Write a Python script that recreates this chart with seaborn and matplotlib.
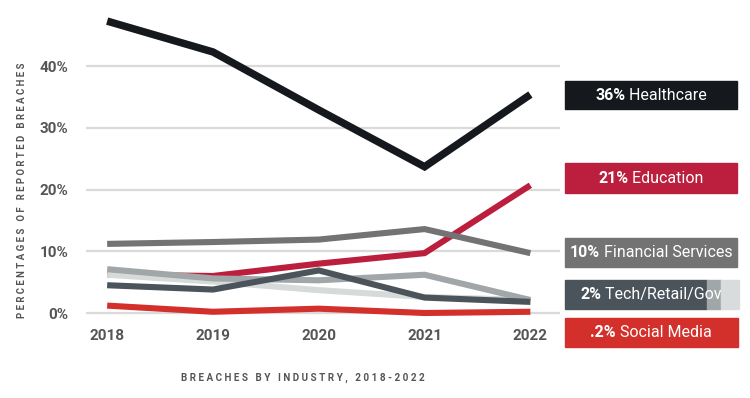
import matplotlib
matplotlib.use('Agg')
import matplotlib.pyplot as plt
import matplotlib.patches as mpatches
import seaborn as sns
import pandas as pd

# 数据
years = [2018, 2019, 2020, 2021, 2022]
healthcare = [47.3, 42.3, 32.9, 23.7, 35.4]
education = [6.2, 6.0, 8.0, 9.7, 20.7]
financial = [11.2, 11.5, 11.9, 13.6, 9.7]
tech = [4.5, 3.8, 6.9, 2.5, 1.8]
retail = [7.1, 5.6, 5.3, 6.2, 2.1]
gov = [6.2, 5.1, 3.7, 2.6, 2.1]
social = [1.2, 0.2, 0.7, 0.0, 0.2]

series = {
    'Education': education,
    'Gov': gov,
    'Retail': retail,
    'Tech': tech,
    'Financial Services': financial,
    'Social Media': social,
    'Healthcare': healthcare,
}
palette = {
    'Healthcare': '#15181c',
    'Education': '#bc1f3d',
    'Financial Services': '#737373',
    'Tech': '#4b545b',
    'Retail': '#a1a6a8',
    'Gov': '#d6dad9',
    'Social Media': '#d4302b',
}

# 右侧标签
box_pct = ['36%', '21%', '10%', '2%', '.2%']
box_names = ['Healthcare', 'Education', 'Financial Services', 'Tech/Retail/Gov', 'Social Media']

rows = []
for name, vals in series.items():
    for y, v in zip(years, vals):
        rows.append({'year': y, 'value': v, 'industry': name})
df = pd.DataFrame(rows)

sns.set_style('white')
plt.rcParams['font.family'] = ['Roboto', 'DejaVu Sans']

fig = plt.figure(figsize=(7.5, 3.98), dpi=100)
W, H = 750, 398
ax = fig.add_axes([86 / W, 1 - 318 / H, (560 - 86) / W, 308 / H])

sns.lineplot(data=df, x='year', y='value', hue='industry', hue_order=list(series.keys()),
             palette=palette, linewidth=4.4, legend=False, ax=ax,
             solid_capstyle='butt', solid_joinstyle='miter')
for line in ax.get_lines():
    if line.get_color() == '#15181c':
        line.set_linewidth(5.4)

ax.set_xlim(2017.80, 2022.28)
ax.set_ylim(-0.81, 49.1)
ax.set_yticks([0, 10, 20, 30, 40])
ax.set_yticklabels(['0%', '10%', '20%', '30%', '40%'])
ax.set_xticks(years)
ax.set_xticklabels([str(y) for y in years])
ax.yaxis.grid(True, color='#dadada', linewidth=1.6)
ax.set_axisbelow(True)
for s in ax.spines.values():
    s.set_visible(False)
ax.tick_params(axis='both', length=0, labelsize=11, labelcolor='#555555')
ax.tick_params(axis='y', pad=13)
ax.tick_params(axis='x', pad=8)
for lbl in ax.get_xticklabels() + ax.get_yticklabels():
    lbl.set_fontweight('bold')
ax.set_xlabel('')
ax.set_ylabel('P E R C E N T A G E S   O F   R E P O R T E D   B R E A C H E S', fontsize=6.9,
              fontweight='bold', color='#555555')
ax.yaxis.set_label_coords(-59 / 474, (318 - 190) / 308)

fig.text(303 / W, 1 - 378 / H, 'B R E A C H E S   B Y   I N D U S T R Y ,   2 0 1 8 - 2 0 2 2',
         ha='center', va='center', fontsize=7.1, fontweight='bold', color='#555555')

# 右侧色块
boxes = [
    (81, 109, [(565, 737, '#15181c')]),
    (163, 193, [(565, 737, '#bc1f3d')]),
    (238, 267, [(565, 737, '#737373')]),
    (280, 309, [(565, 707, '#4b545b'), (707, 721, '#a1a6a8'), (721, 739, '#d9dcdc')]),
    (318, 347, [(565, 738, '#d4302b')]),
]
texts = []
for (y0, y1, segs), pct, name in zip(boxes, box_pct, box_names):
    for x0, x1, c in segs:
        fig.patches.append(mpatches.Rectangle((x0 / W, 1 - y1 / H), (x1 - x0) / W, (y1 - y0) / H,
                                              transform=fig.transFigure, color=c, zorder=1))
    yc = 1 - (y0 + y1) / 2 / H
    t1 = fig.text(0, yc, pct, ha='left', va='center', fontsize=11.5, fontweight='bold', color='white')
    t2 = fig.text(0, yc, ' ' + name, ha='left', va='center', fontsize=11.5, color='white')
    texts.append((t1, t2, 651))

fig.canvas.draw()
r = fig.canvas.get_renderer()
for t1, t2, xc in texts:
    w1 = t1.get_window_extent(r).width
    w2 = t2.get_window_extent(r).width
    x0 = xc - (w1 + w2) / 2
    t1.set_x(x0 / W)
    t2.set_x((x0 + w1) / W)

plt.savefig('out.png', dpi=100)
plt.close()
